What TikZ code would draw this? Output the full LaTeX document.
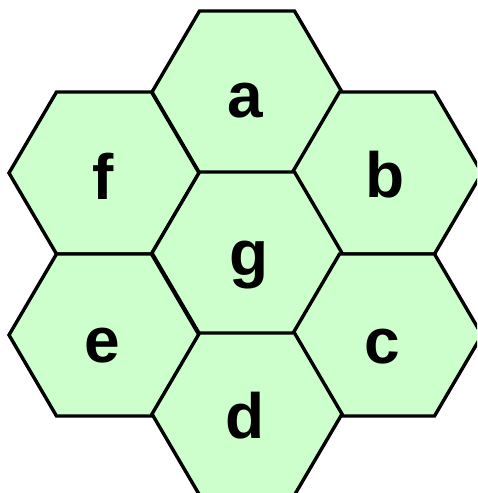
\documentclass[tikz,border=0pt]{standalone}
\usepackage{fontspec}
\setmainfont{Liberation Sans}
\definecolor{hexfill}{HTML}{CCFFCC}
\tikzset{
  hexcell/.style={fill=hexfill, draw=black, line width=3.4pt, line join=miter},
  hexlabel/.style={anchor=base, inner sep=0pt, font=\fontsize{64}{64}\selectfont\bfseries}
}
\newcommand{\hexcellat}[2]{%
  \draw[hexcell, shift={(#1,#2)}] (95,0) -- (47.5,81) -- (-47.5,81) -- (-95,0) -- (-47.5,-81) -- (47.5,-81) -- cycle;}
\begin{document}
\begin{tikzpicture}[x=1pt,y=-1pt]
\useasboundingbox (0,0) rectangle (477,493);
\clip (0,0) rectangle (477,493);
\hexcellat{247}{92}
\hexcellat{104}{173}
\hexcellat{387}{173}
\hexcellat{247}{253}
\hexcellat{104}{335}
\hexcellat{387}{335}
\hexcellat{247}{414}
\node[hexlabel] (la) at (245,117) {a};
\node[hexlabel] (lb) at (385,197) {b};
\node[hexlabel] (lf) at (103,199) {f};
\node[hexlabel] (lg) at (249,275) {g};
\node[hexlabel] (le) at (102,362) {e};
\node[hexlabel] (lc) at (382,363) {c};
\node[hexlabel] (ld) at (245,438) {d};
\end{tikzpicture}
\end{document}
